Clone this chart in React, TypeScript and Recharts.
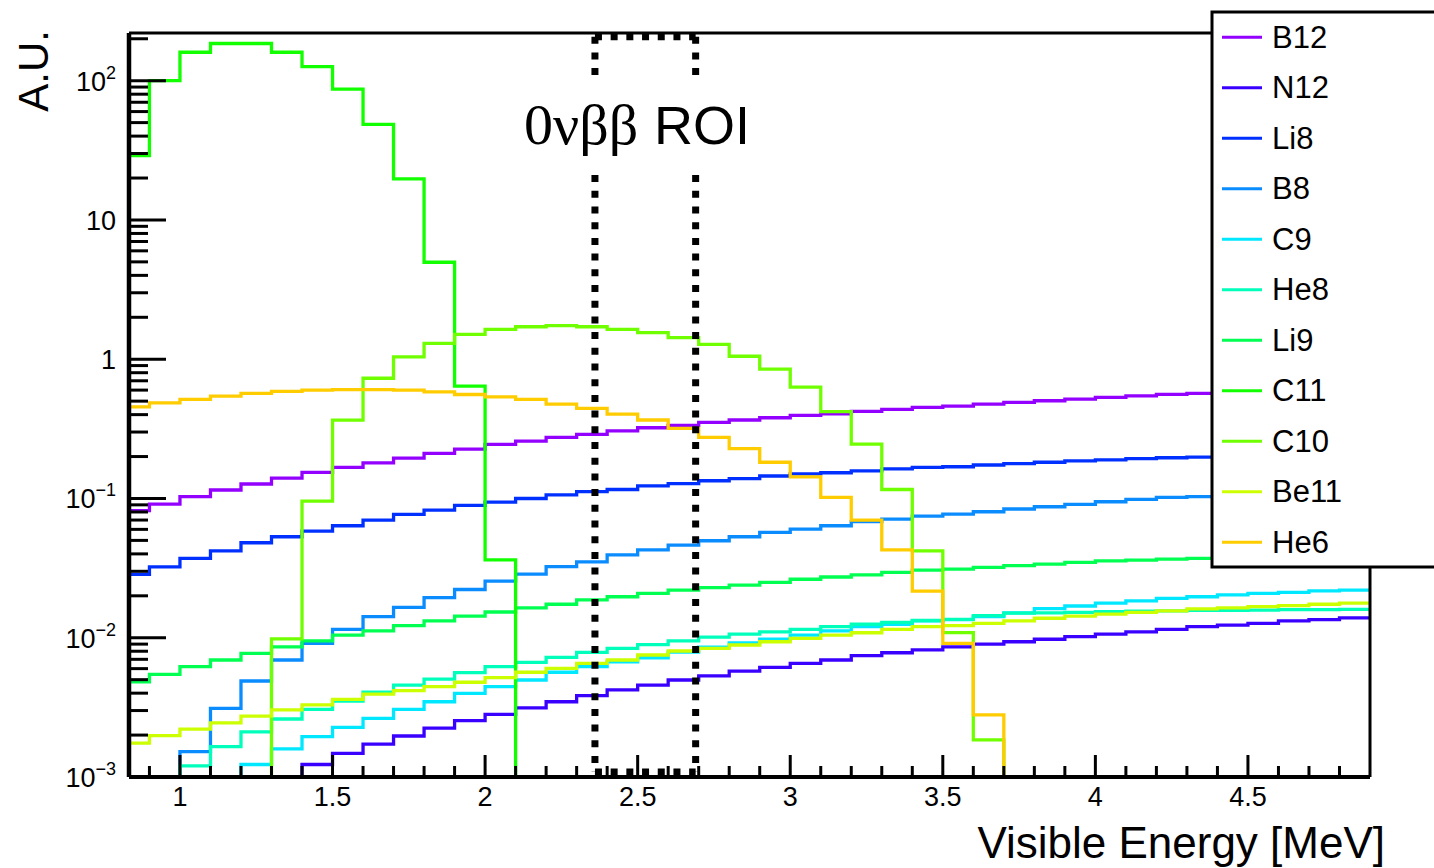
import React from 'react';
import { LineChart, Line, XAxis, YAxis, ReferenceLine } from 'recharts';

// Bin edges (MeV): lower edges of 41 bins of 0.1 MeV plus final upper edge
const binEdges = [
  0.8, 0.9, 1.0, 1.1, 1.2, 1.3, 1.4, 1.5, 1.6, 1.7, 1.8, 1.9, 2.0, 2.1,
  2.2, 2.3, 2.4, 2.5, 2.6, 2.7, 2.8, 2.9, 3.0, 3.1, 3.2, 3.3, 3.4, 3.5,
  3.6, 3.7, 3.8, 3.9, 4.0, 4.1, 4.2, 4.3, 4.4, 4.5, 4.6, 4.7, 4.8, 4.9,
];

const seriesNames = ['B12', 'N12', 'Li8', 'B8', 'C9', 'He8', 'Li9', 'C11', 'C10', 'Be11', 'He6'];
const seriesColors = [
  '#9300ff', '#3a00ff', '#0030ff', '#0a8cff', '#00e8ff', '#00ffbb',
  '#00ff50', '#12ff00', '#70ff00', '#ccff00', '#ffcc00',
];

const B12 = [0.0817, 0.0912, 0.103, 0.115, 0.127, 0.14, 0.154, 0.167, 0.18, 0.195, 0.211, 0.226, 0.245, 0.258,
  0.275, 0.289, 0.306, 0.322, 0.335, 0.352, 0.366, 0.38, 0.395, 0.406, 0.422, 0.436, 0.451, 0.46,
  0.476, 0.49, 0.503, 0.517, 0.532, 0.546, 0.559, 0.568, 0.578, 0.588, 0.598, 0.608, 0.617];
const N12 = [0, 0, 0, 0, 0, 0, 0.00123, 0.00148, 0.00172, 0.00197, 0.00224, 0.00254, 0.00282, 0.00314,
  0.00347, 0.00384, 0.00422, 0.00457, 0.00497, 0.00533, 0.00576, 0.00613, 0.00655, 0.00692, 0.00743, 0.0078, 0.00817, 0.00861,
  0.00901, 0.00936, 0.00975, 0.0102, 0.0106, 0.011, 0.0115, 0.012, 0.0123, 0.0127, 0.0132, 0.0135, 0.0139];
const Li8 = [0.0285, 0.0323, 0.0372, 0.0421, 0.0481, 0.0531, 0.0583, 0.0637, 0.07, 0.0769, 0.0826, 0.0892, 0.0942, 0.1,
  0.106, 0.112, 0.116, 0.123, 0.128, 0.134, 0.139, 0.145, 0.15, 0.153, 0.158, 0.163, 0.167, 0.169,
  0.174, 0.178, 0.182, 0.186, 0.189, 0.193, 0.196, 0.198, 0.201, 0.204, 0.207, 0.21, 0.213];
const B8 = [0, 0, 0.00152, 0.00311, 0.00489, 0.00692, 0.00912, 0.0115, 0.0142, 0.0165, 0.0194, 0.0222, 0.0255, 0.0286,
  0.0324, 0.0351, 0.0393, 0.0427, 0.0463, 0.0497, 0.0531, 0.0571, 0.0603, 0.0637, 0.0681, 0.0711, 0.0747, 0.0773,
  0.0803, 0.084, 0.0872, 0.0907, 0.0947, 0.0985, 0.102, 0.103, 0.106, 0.108, 0.11, 0.112, 0.114];
const C9 = [0, 0, 0, 0, 0.00123, 0.00159, 0.00195, 0.00227, 0.00264, 0.00306, 0.00347, 0.00399, 0.00445, 0.00497,
  0.00565, 0.0062, 0.0067, 0.00718, 0.00789, 0.00857, 0.0092, 0.00975, 0.01045, 0.0112, 0.012, 0.0125, 0.0132, 0.0135,
  0.0142, 0.0151, 0.0162, 0.0169, 0.0177, 0.0184, 0.0192, 0.0197, 0.0203, 0.0208, 0.0212, 0.0217, 0.022];
const He8 = [0, 0, 0.0012, 0.00165, 0.00211, 0.00261, 0.00306, 0.00351, 0.00406, 0.00457, 0.00505, 0.00561, 0.0062, 0.00666,
  0.00723, 0.00785, 0.00839, 0.00891, 0.00951, 0.0101, 0.0106, 0.011, 0.0115, 0.012, 0.0125, 0.0129, 0.0133, 0.01355,
  0.0144, 0.015, 0.0151, 0.0152, 0.0154, 0.0155, 0.0156, 0.0157, 0.0157, 0.0158, 0.0159, 0.0159, 0.016];
const Li9 = [0.00483, 0.00546, 0.0062, 0.00692, 0.00773, 0.00861, 0.00951, 0.01045, 0.0112, 0.0122, 0.0132, 0.0143, 0.0153, 0.0164,
  0.0174, 0.0187, 0.0197, 0.0208, 0.022, 0.0229, 0.0239, 0.025, 0.0263, 0.0273, 0.0283, 0.0295, 0.0306, 0.0311,
  0.032, 0.0329, 0.0338, 0.0348, 0.0356, 0.0361, 0.0367, 0.0372, 0.0377, 0.0382, 0.0387, 0.0392, 0.0397];
const C11 = [29, 100, 160, 185, 185, 160, 126, 87, 48.6, 19.7, 4.97, 0.64, 0.0362, 0,
  0, 0, 0, 0, 0, 0, 0, 0, 0, 0, 0, 0, 0, 0,
  0, 0, 0, 0, 0, 0, 0, 0, 0, 0, 0, 0, 0];
const C10 = [0, 0, 0, 0, 0, 0.0098, 0.0957, 0.365, 0.73, 1.04, 1.3, 1.51, 1.64, 1.71,
  1.74, 1.71, 1.64, 1.55, 1.43, 1.28, 1.05, 0.85, 0.63, 0.42, 0.246, 0.116, 0.042, 0.0109,
  0.00185, 0, 0, 0, 0, 0, 0, 0, 0, 0, 0, 0, 0];
const Be11 = [0.00175, 0.00198, 0.00221, 0.00245, 0.00274, 0.00303, 0.00329, 0.00361, 0.00393, 0.00417, 0.00445, 0.00479, 0.00517, 0.00565,
  0.00603, 0.00655, 0.00692, 0.00752, 0.00803, 0.00839, 0.00887, 0.00936, 0.0099, 0.01045, 0.01086, 0.0115, 0.012, 0.0122,
  0.0127, 0.0132, 0.0138, 0.0143, 0.0148, 0.0152, 0.0156, 0.0161, 0.0164, 0.0167, 0.017, 0.0174, 0.0177];
const He6 = [0.455, 0.486, 0.514, 0.543, 0.568, 0.587, 0.6, 0.605, 0.605, 0.6, 0.583, 0.558, 0.537, 0.514,
  0.476, 0.444, 0.404, 0.366, 0.319, 0.275, 0.228, 0.182, 0.143, 0.102, 0.07, 0.0427, 0.0216, 0.0091,
  0.00279, 0, 0, 0, 0, 0, 0, 0, 0, 0, 0, 0, 0];

const allSeries = [B12, N12, Li8, B8, C9, He8, Li9, C11, C10, Be11, He6];

// Axis ticks
const xMajorTicks = [1, 1.5, 2, 2.5, 3, 3.5, 4, 4.5];
const xMinorTicks = [0.9, 1.1, 1.2, 1.3, 1.4, 1.6, 1.7, 1.8, 1.9, 2.1, 2.2, 2.3, 2.4, 2.6, 2.7, 2.8, 2.9,
  3.1, 3.2, 3.3, 3.4, 3.6, 3.7, 3.8, 3.9, 4.1, 4.2, 4.3, 4.4, 4.6, 4.7, 4.8];
const yMajorTicks = [0.001, 0.01, 0.1, 1, 10, 100];
const yTickLabels = [
  { base: '10', exp: '\u22123' },
  { base: '10', exp: '\u22122' },
  { base: '10', exp: '\u22121' },
  { base: '1', exp: '' },
  { base: '10', exp: '' },
  { base: '10', exp: '2' },
];
const yMinorFactors = [2, 3, 4, 5, 6, 7, 8, 9];

const X_DOMAIN = [0.833, 4.9];
const Y_DOMAIN = [0.001, 220];
const ROI = { lo: 2.36, hi: 2.69, top: 207, gapTop: 109, gapBottom: 21, bottom: 0.001086 };

const FLOOR = 0.001;
const table = binEdges.map((x, i) => {
  const row: Record<string, number> = { x };
  seriesNames.forEach((name, s) => {
    const arr = allSeries[s];
    const v = arr[Math.min(i, arr.length - 1)];
    row[name] = v > 0 ? v : FLOOR;
  });
  return row;
});

const yMinorTicks: number[] = [];
yMajorTicks.forEach((m) => {
  yMinorFactors.forEach((f) => {
    const v = +(m * f).toPrecision(6);
    if (v <= Y_DOMAIN[1]) yMinorTicks.push(v);
  });
});
const yAllTicks = [...yMajorTicks, ...yMinorTicks].sort((a, b) => a - b);
const xAllTicks = [...xMajorTicks, ...xMinorTicks].sort((a, b) => a - b);

const FONT = '"Liberation Sans", Arial, Helvetica, sans-serif';
const SERIF = '"Liberation Serif", "DejaVu Serif", serif';
const W = 1434;
const H = 868;
const PLOT = { left: 129, top: 33, right: 1370, bottom: 777 };
const Y_AXIS_W = 60;
const X_AXIS_H = 40;

const XTick = (props: any) => {
  const { x, payload } = props;
  const v = payload.value;
  const major = xMajorTicks.some((m) => Math.abs(m - v) < 1e-6);
  const len = major ? 22 : 11;
  return (
    <g>
      <line x1={x} x2={x} y1={PLOT.bottom} y2={PLOT.bottom - len} stroke="#000" strokeWidth={3} />
      {major && (
        <text x={x} y={PLOT.bottom + 29} textAnchor="middle" fontSize={27} fill="#000" fontFamily={FONT}>
          {String(v)}
        </text>
      )}
    </g>
  );
};

const YTick = (props: any) => {
  const { y, payload } = props;
  const v = payload.value;
  const idx = yMajorTicks.findIndex((m) => Math.abs(m - v) / m < 1e-6);
  const major = idx >= 0;
  const len = major ? 37 : 19;
  const lab = major ? yTickLabels[idx] : null;
  return (
    <g>
      <line x1={PLOT.left} x2={PLOT.left + len} y1={y} y2={y} stroke="#000" strokeWidth={3} />
      {lab && (
        <text x={116} y={y + 10} textAnchor="end" fontSize={27} fill="#000" fontFamily={FONT}>
          {lab.base}
          {lab.exp && (
            <tspan dy={-12} fontSize={18}>
              {lab.exp}
            </tspan>
          )}
        </text>
      )}
    </g>
  );
};

const dotted = { stroke: '#000', strokeWidth: 7, strokeDasharray: '7 8.7' };

export default function App() {
  return (
    <div style={{ position: 'absolute', left: 0, top: 0, width: W, height: H, overflow: 'hidden', background: '#fff' }}>
      <LineChart
        width={W}
        height={H}
        data={table}
        margin={{ top: PLOT.top, right: W - PLOT.right, bottom: H - PLOT.bottom - X_AXIS_H, left: PLOT.left - Y_AXIS_W }}
      >
        <XAxis
          dataKey="x"
          type="number"
          domain={X_DOMAIN}
          allowDataOverflow
          ticks={xAllTicks}
          interval={0}
          height={X_AXIS_H}
          tickLine={false}
          tick={<XTick />}
          axisLine={{ stroke: '#000', strokeWidth: 4 }}
        />
        <YAxis
          type="number"
          scale="log"
          domain={Y_DOMAIN}
          allowDataOverflow
          ticks={yAllTicks}
          interval={0}
          width={Y_AXIS_W}
          tickLine={false}
          tick={<YTick />}
          axisLine={{ stroke: '#000', strokeWidth: 4.5 }}
        />
        {seriesNames.map((name, s) => (
          <Line
            key={name}
            name={name}
            dataKey={name}
            type="stepAfter"
            stroke={seriesColors[s]}
            strokeWidth={3.3}
            dot={false}
            activeDot={false}
            isAnimationActive={false}
          />
        ))}
        <ReferenceLine y={Y_DOMAIN[1]} stroke="#000" strokeWidth={3} ifOverflow="visible" />
        <ReferenceLine x={X_DOMAIN[1]} stroke="#000" strokeWidth={3} ifOverflow="visible" />
        <ReferenceLine segment={[{ x: ROI.lo, y: ROI.top }, { x: ROI.lo, y: ROI.gapTop }]} {...dotted} ifOverflow="visible" />
        <ReferenceLine segment={[{ x: ROI.lo, y: ROI.gapBottom }, { x: ROI.lo, y: ROI.bottom }]} {...dotted} ifOverflow="visible" />
        <ReferenceLine segment={[{ x: ROI.hi, y: ROI.top }, { x: ROI.hi, y: ROI.gapTop }]} {...dotted} ifOverflow="visible" />
        <ReferenceLine segment={[{ x: ROI.hi, y: ROI.gapBottom }, { x: ROI.hi, y: ROI.bottom }]} {...dotted} ifOverflow="visible" />
        <ReferenceLine segment={[{ x: ROI.lo, y: ROI.top }, { x: ROI.hi, y: ROI.top }]} {...dotted} ifOverflow="visible" />
        <ReferenceLine segment={[{ x: ROI.lo, y: ROI.bottom }, { x: ROI.hi, y: ROI.bottom }]} {...dotted} ifOverflow="visible" />
      </LineChart>
      <svg width={W} height={H} style={{ position: 'absolute', left: 0, top: 0, pointerEvents: 'none' }}>
        <text x={524} y={144} fontSize={58} fill="#000" fontFamily={SERIF}>
          0νββ
        </text>
        <text x={654} y={144} fontSize={54} fill="#000" fontFamily={FONT}>
          ROI
        </text>
        <text transform="translate(48, 30) rotate(-90)" textAnchor="end" fontSize={42} fill="#000" fontFamily={FONT}>
          A.U.
        </text>
        <text x={1385} y={858} textAnchor="end" fontSize={44} fill="#000" fontFamily={FONT}>
          Visible Energy [MeV]
        </text>
        <rect x={1212} y={12} width={260} height={555} fill="#fff" stroke="#000" strokeWidth={3} />
        {seriesNames.map((name, i) => {
          const cy = 37.25 + i * 50.5;
          return (
            <g key={name}>
              <line x1={1222} x2={1262} y1={cy} y2={cy} stroke={seriesColors[i]} strokeWidth={3} />
              <text x={1272} y={cy + 10.5} fontSize={31} fill="#000" fontFamily={FONT}>
                {name}
              </text>
            </g>
          );
        })}
      </svg>
    </div>
  );
}
